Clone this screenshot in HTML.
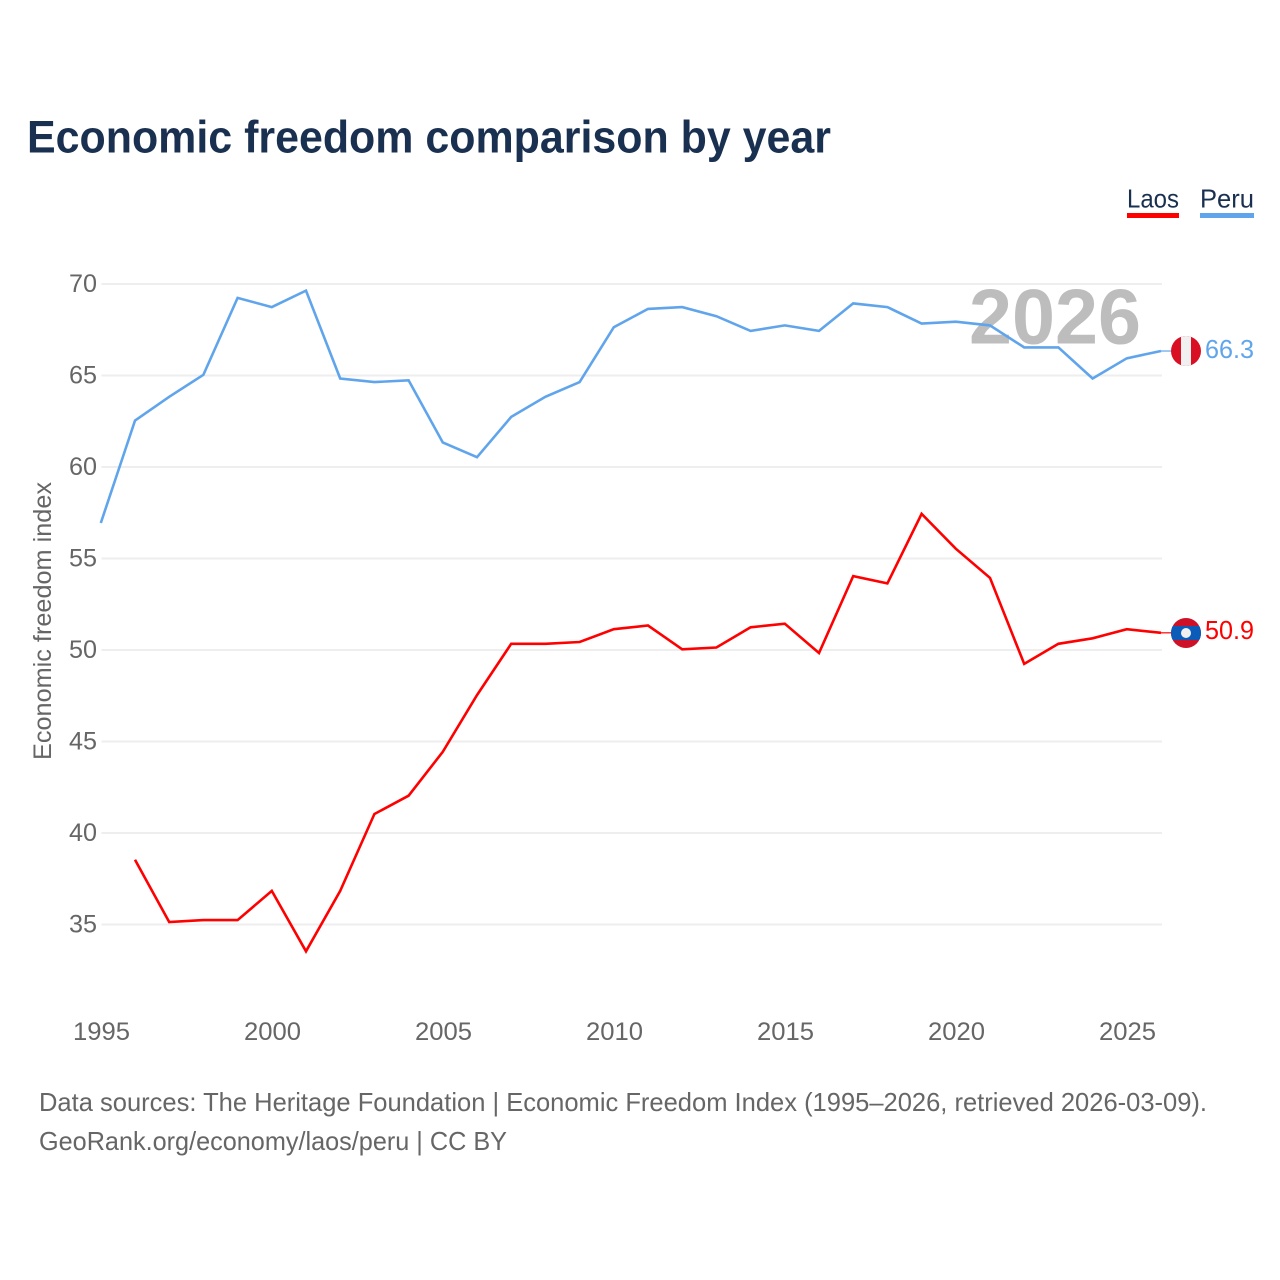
<!DOCTYPE html>
<html lang="en">
<head>
<meta charset="utf-8">
<title>Economic freedom comparison by year</title>
<style>
html,body{margin:0;padding:0;background:#fff;width:1280px;height:1280px;overflow:hidden}
svg{display:block}
text{font-family:"Liberation Sans",sans-serif}
</style>
</head>
<body>
<svg id="chart" xmlns="http://www.w3.org/2000/svg" width="1280" height="1280" viewBox="0 0 1280 1280">
  <rect width="1280" height="1280" fill="#fff"/>
  <text x="27" y="152.5" font-size="45" font-weight="700" fill="#1a3050" textLength="804" lengthAdjust="spacingAndGlyphs">Economic freedom comparison by year</text>

  <g id="legend">
    <g>
      <text x="1127" y="207.5" font-size="26" fill="#1a3050" textLength="52" lengthAdjust="spacingAndGlyphs">Laos</text>
      <rect x="1127" y="213" width="52" height="5" fill="#ff0000"/>
    </g>
    <g>
      <text x="1200" y="207.5" font-size="26" fill="#1a3050" textLength="54" lengthAdjust="spacingAndGlyphs">Peru</text>
      <rect x="1200" y="213" width="54" height="5" fill="#60a5ec"/>
    </g>
  </g>

  <g id="grid"></g>
  <g id="yticks"></g>
  <g id="xticks"></g>

  <text transform="translate(51,621) rotate(-90)" text-anchor="middle" font-size="25" fill="#666" textLength="278" lengthAdjust="spacingAndGlyphs">Economic freedom index</text>

  <text x="969" y="343.5" font-size="78" font-weight="700" fill="#bdbdbd" textLength="172" lengthAdjust="spacingAndGlyphs">2026</text>

  <g id="series" transform="translate(-0.7,-0.7)"></g>

  <defs>
    <clipPath id="flag-clip-peru"><circle cx="1186" cy="351" r="15"/></clipPath>
    <clipPath id="flag-clip-laos"><circle cx="1186" cy="633" r="15"/></clipPath>
  </defs>
  <g clip-path="url(#flag-clip-peru)">
    <rect x="1171" y="336" width="30" height="30" fill="#d91023"/>
    <rect x="1181" y="336" width="10" height="30" fill="#f0f0f0"/>
  </g>
  <g clip-path="url(#flag-clip-laos)">
    <rect x="1171" y="618" width="30" height="30" fill="#ce1126"/>
    <rect x="1171" y="626" width="30" height="14" fill="#0b5cb8"/>
    <circle cx="1186" cy="633" r="5" fill="#f0f0f0"/>
  </g>
  <text x="1205" y="358" font-size="26" fill="#60a5ec" textLength="49" lengthAdjust="spacingAndGlyphs">66.3</text>
  <text x="1205" y="639" font-size="26" fill="#ff0000" textLength="49" lengthAdjust="spacingAndGlyphs">50.9</text>

  <text x="39" y="1111" font-size="26" fill="#666" textLength="1168" lengthAdjust="spacingAndGlyphs">Data sources: The Heritage Foundation | Economic Freedom Index (1995–2026, retrieved 2026-03-09).</text>
  <text x="39" y="1150" font-size="26" fill="#666" textLength="468" lengthAdjust="spacingAndGlyphs">GeoRank.org/economy/laos/peru | CC BY</text>
</svg>
<script>
const years = [1995,1996,1997,1998,1999,2000,2001,2002,2003,2004,2005,2006,2007,2008,2009,2010,2011,2012,2013,2014,2015,2016,2017,2018,2019,2020,2021,2022,2023,2024,2025,2026];
const peruValues = [56.9,62.5,63.8,65.0,69.2,68.7,69.6,64.8,64.6,64.7,61.3,60.5,62.7,63.8,64.6,67.6,68.6,68.7,68.2,67.4,67.7,67.4,68.9,68.7,67.8,67.9,67.7,66.5,66.5,64.8,65.9,66.3];
const laosValues = [null,38.5,35.1,35.2,35.2,36.8,33.5,36.8,41.0,42.0,44.4,47.5,50.3,50.3,50.4,51.1,51.3,50.0,50.1,51.2,51.4,49.8,54.0,53.6,57.4,55.5,53.9,49.2,50.3,50.6,51.1,50.9];
const yTickValues = [35,40,45,50,55,60,65,70];
const xTickValues = [1995,2000,2005,2010,2015,2020,2025];

const SVG_NS = 'http://www.w3.org/2000/svg';
function xScale(year){ return 101.5 + (year - 1995) * 34.2; }
function yScale(value){ return 284 + (70 - value) * 18.3; }
function make(tag, attrs, parent){
  const el = document.createElementNS(SVG_NS, tag);
  for (const k in attrs) el.setAttribute(k, attrs[k]);
  parent.appendChild(el);
  return el;
}

const grid = document.getElementById('grid');
const yticks = document.getElementById('yticks');
const xticks = document.getElementById('xticks');
const seriesGroup = document.getElementById('series');

yTickValues.forEach(function(v){
  const line = make('line', {x1: 101.5, x2: 1162, y1: yScale(v), y2: yScale(v), stroke: '#eeeeee', 'stroke-width': 2}, grid);
  
  
  const label = make('text', {x: 97, y: yScale(v) + 8, 'text-anchor': 'end', 'font-size': 25, fill: '#666', textLength: 28, lengthAdjust: 'spacingAndGlyphs'}, yticks);
  label.textContent = String(v);
  
  
});

xTickValues.forEach(function(y){
  const label = make('text', {x: xScale(y), y: 1040, 'text-anchor': 'middle', 'font-size': 25, fill: '#666', textLength: 57, lengthAdjust: 'spacingAndGlyphs'}, xticks);
  label.textContent = String(y);
  
  
});

function drawSeries(values, color, name){
  const pts = [];
  values.forEach(function(v, i){
    if (v !== null) pts.push(xScale(years[i]).toFixed(1) + ',' + yScale(v).toFixed(1));
  });
  const lineEl = make('polyline', {points: pts.join(' '), fill: 'none', stroke: color, 'stroke-width': 2.6, 'stroke-linejoin': 'miter'}, seriesGroup);
  
  
  const last = values[values.length - 1];
  const connector = make('line', {x1: xScale(years[years.length - 1]), x2: 1172, y1: yScale(last), y2: yScale(last), stroke: color, 'stroke-width': 1.2}, seriesGroup);
  
  
}
drawSeries(peruValues, '#60a5ec', 'peru');
drawSeries(laosValues, '#ff0000', 'laos');
</script>
</body>
</html>
